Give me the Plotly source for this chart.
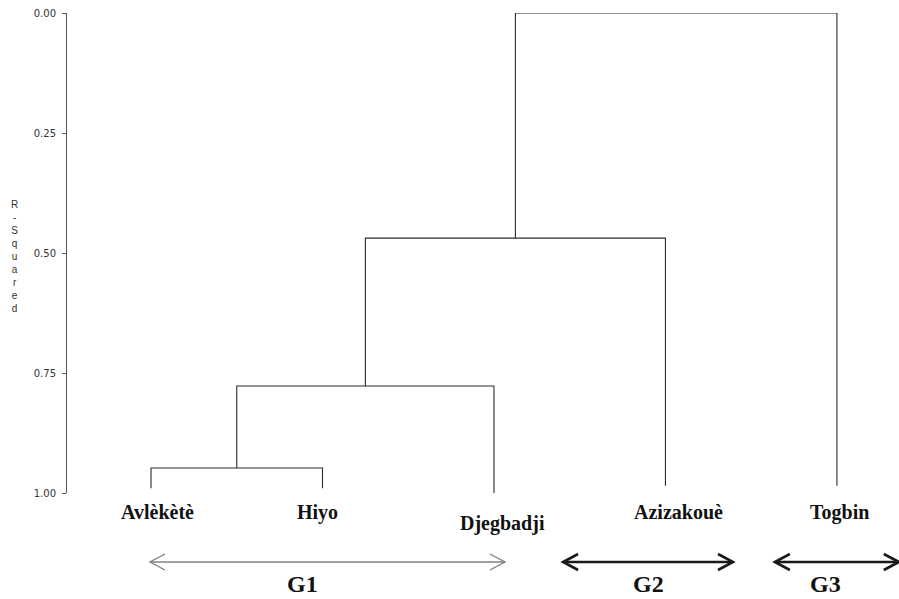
import plotly.graph_objects as go

# ---- data ----
leaves = ["Avlèkètè", "Hiyo", "Djegbadji", "Azizakouè", "Togbin"]
leaf_bottom = [0.99, 0.99, 1.0, 0.985, 0.985]
# merges: (left cluster id, right cluster id, R-squared height); ids 0..4 are leaves, 5.. new clusters
merges = [(0, 1, 0.948), (5, 2, 0.777), (6, 3, 0.469), (7, 4, 0.0)]
yticks = [0.0, 0.25, 0.5, 0.75, 1.0]
ytick_text = ["0.00", "0.25", "0.50", "0.75", "1.00"]
groups = ["G1", "G2", "G3"]
group_span = [(0.994, 3.064), (3.403, 4.394), (4.638, 5.361)]
group_label_x = [1.886, 3.904, 4.936]
group_color = ["#808080", "#1a1a1a", "#1a1a1a"]
group_width = [1.4, 2.6, 2.6]

# ---- geometry ----
X0, X1 = 0.51, 5.362
pos = {i: (i + 1, leaf_bottom[i]) for i in range(len(leaves))}
xs, ys = [], []
cid = len(leaves)
for a, b, h in merges:
    xa, ya = pos[a]
    xb, yb = pos[b]
    xs += [xa, xa, xb, xb, None]
    ys += [ya, h, h, yb, None]
    pos[cid] = ((xa + xb) / 2, h)
    cid += 1

fig = go.Figure()
fig.add_trace(go.Scatter(x=xs, y=ys, mode="lines",
                         line=dict(color="#2b2b2b", width=1.1),
                         hoverinfo="skip", showlegend=False))

def px_(x):
    return (x - X0) / (X1 - X0)

annotations = []
label_shift = [(6, 0), (-5, 0), (9, -11), (13, 0), (3, 0)]
for i, name in enumerate(leaves):
    annotations.append(dict(x=i + 1, y=0, xref="x", yref="paper", text="<b>" + name + "</b>",
                            showarrow=False, yanchor="middle", xanchor="center",
                            xshift=label_shift[i][0], yshift=-19 + label_shift[i][1],
                            font=dict(family="Liberation Serif", size=20, color="#111")))

shapes = []
ay = -69 / 480.0
hx, hy = 15 / 832.0 * (X1 - X0), 8 / 480.0
for g, (a, b), lx, col, w in zip(groups, group_span, group_label_x, group_color, group_width):
    shapes.append(dict(type="line", xref="paper", yref="paper", x0=px_(a), x1=px_(b), y0=ay, y1=ay,
                       line=dict(color=col, width=w)))
    for (tip, back) in [(a, a + hx), (b, b - hx)]:
        shapes.append(dict(type="path", xref="paper", yref="paper",
                           path=f"M {px_(back)},{ay + hy} L {px_(tip)},{ay} L {px_(back)},{ay - hy}",
                           line=dict(color=col, width=w)))
    annotations.append(dict(x=lx, y=-91 / 480.0, xref="x", yref="paper", text="<b>" + g + "</b>",
                            showarrow=False, yanchor="middle", xanchor="center", borderpad=0,
                            font=dict(family="Liberation Serif", size=24, color="#111")))

annotations.append(dict(x=(14 - 67) / 832.0, y=0.5 + (253 - 256) / 480.0, xref="paper", yref="paper",
                        text="<br>".join(list("R-Squared")), showarrow=False,
                        font=dict(family="Liberation Sans", size=10, color="#333"),
                        xanchor="center", yanchor="middle"))

fig.update_layout(
    width=899, height=599,
    margin=dict(l=67, r=0, t=13, b=106),
    paper_bgcolor="white", plot_bgcolor="white",
    showlegend=False,
    xaxis=dict(range=[X0, X1], visible=False, fixedrange=True),
    yaxis=dict(range=[1.0, 0.0], tickvals=yticks, ticktext=ytick_text,
               showgrid=False, zeroline=False, showline=True, linecolor="#555", linewidth=1,
               ticks="outside", ticklen=4, tickcolor="#555", fixedrange=True,
               ticklabelstandoff=4,
               tickfont=dict(family="DejaVu Sans", size=10, color="#333")),
    annotations=annotations,
    shapes=shapes,
)

fig.write_html("out.html", config={"displayModeBar": False, "staticPlot": True},
               post_script="document.body.style.margin='0px';document.body.style.overflow='hidden';")
